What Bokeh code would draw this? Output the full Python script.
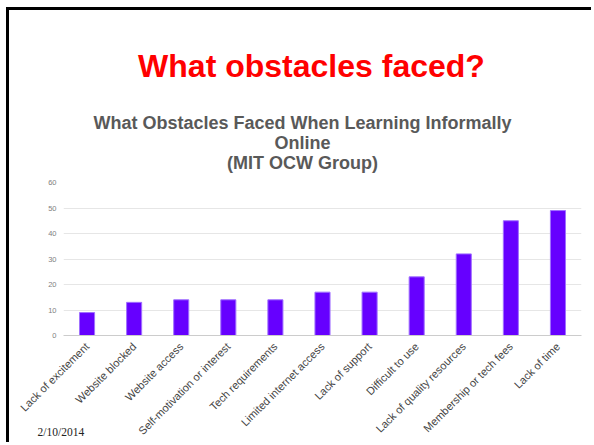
import math
from bokeh.plotting import figure
from bokeh.models import Range1d, FactorRange, FixedTicker, Title
from bokeh.embed import file_html
from bokeh.resources import INLINE

# ---- data ----
categories = ["Lack of excitement", "Website blocked", "Website access",
              "Self-motivation or interest", "Tech requirements",
              "Limited internet access", "Lack of support", "Difficult to use",
              "Lack of quality resources", "Membership or tech fees", "Lack of time"]
counts = [9, 13, 14, 14, 14, 17, 17, 23, 32, 45, 49]
y_ticks = [0, 10, 20, 30, 40, 50, 60]

slide_title = "What obstacles faced?"
chart_title_lines = ["What Obstacles Faced When Learning Informally", "Online", "(MIT OCW Group)"]
date_text = "2/10/2014"

# Arial/Liberation Sans Bold advance widths (per 1000 em) used to centre left-anchored titles
AW = dict(zip(" ()?ABCDEFGHIJKLMNOPQRSTUVWXYZabcdefghijklmnopqrstuvwxyz",
              [278, 333, 333, 611,
               722, 722, 722, 722, 667, 611, 778, 722, 278, 556, 722, 611, 833, 722, 778, 667, 778, 722, 667, 611, 722, 667, 944, 667, 667, 611,
               556, 611, 556, 611, 556, 333, 611, 611, 278, 278, 556, 278, 889, 611, 611, 611, 611, 389, 556, 333, 611, 556, 778, 556, 556, 500]))


def text_w(s, size):
    return sum(AW.get(c, 556) for c in s) * size / 1000.0


PAD_L, PAD_T = 9, 10          # css offset + border in front of the canvas
W, H = 594 - PAD_L, 445 - PAD_T
FRAME_LEFT = 63 - PAD_L
p = figure(width=W, height=H, x_range=FactorRange(*categories), y_range=Range1d(0, 60),
           output_backend="svg", toolbar_location=None,
           min_border_left=FRAME_LEFT, min_border_right=13, min_border_top=182 - PAD_T,
           min_border_bottom=110)
p.styles = {"border-top": "3px solid black", "border-left": "3px solid black",
            "position": "relative", "left": "6px", "top": "7px", "overflow": "hidden"}
p.outline_line_color = None
p.background_fill_color = "white"
p.border_fill_color = "white"

p.vbar(x=categories, top=counts, width=0.32, fill_color="#6600ff", line_color="#a070ff", line_width=1)

# axes
p.yaxis.ticker = FixedTicker(ticks=y_ticks)
p.yaxis.axis_line_color = None
p.yaxis.major_tick_line_color = None
p.yaxis.minor_tick_line_color = None
p.yaxis.major_tick_out = 0
p.yaxis.major_tick_in = 0
p.yaxis.major_label_standoff = 7
p.yaxis.major_label_text_font = "Liberation Sans"
p.yaxis.major_label_text_font_size = "7.5px"
p.yaxis.major_label_text_color = "#808080"

p.xaxis.axis_line_color = "#cccccc"
p.xaxis.major_tick_line_color = None
p.xaxis.minor_tick_line_color = None
p.xaxis.major_tick_out = 0
p.xaxis.major_tick_in = 0
p.xaxis.major_label_orientation = math.pi / 4
p.xaxis.major_label_standoff = 9
p.xaxis.major_label_text_font = "Liberation Sans"
p.xaxis.major_label_text_font_size = "11px"
p.xaxis.major_label_text_color = "#444444"

p.xgrid.grid_line_color = None
p.ygrid.grid_line_color = "#e6e6e6"
p.ygrid.ticker = FixedTicker(ticks=y_ticks)

# ---- titles above (first added = closest to the frame) ----
SUB_SIZE = 18
p.add_layout(Title(text=" ", text_font_size="10px", standoff=-3, vertical_align="middle"), "above")
for line in reversed(chart_title_lines):
    off = 302 - text_w(line, SUB_SIZE) / 2 - 63
    p.add_layout(Title(text=line, align="left", offset=off, vertical_align="middle",
                       text_font="Liberation Sans", text_font_style="bold",
                       text_font_size=f"{SUB_SIZE}px", text_color="#595959", standoff=-2.2), "above")
TITLE_SIZE = 32
p.add_layout(Title(text=slide_title, align="left", offset=311 - text_w(slide_title, TITLE_SIZE) / 2 - 63,
                   vertical_align="middle", text_font="Liberation Sans", text_font_style="bold",
                   text_font_size=f"{TITLE_SIZE}px", text_color="#ff0000", standoff=55), "above")

# ---- date below ----
p.add_layout(Title(text=date_text, align="left", offset=37 - 63, vertical_align="top",
                   text_font="Liberation Serif", text_font_style="normal", text_font_size="11.5px",
                   text_color="#222222", standoff=-38), "below")

open("out.html", "w").write(file_html(p, INLINE))
